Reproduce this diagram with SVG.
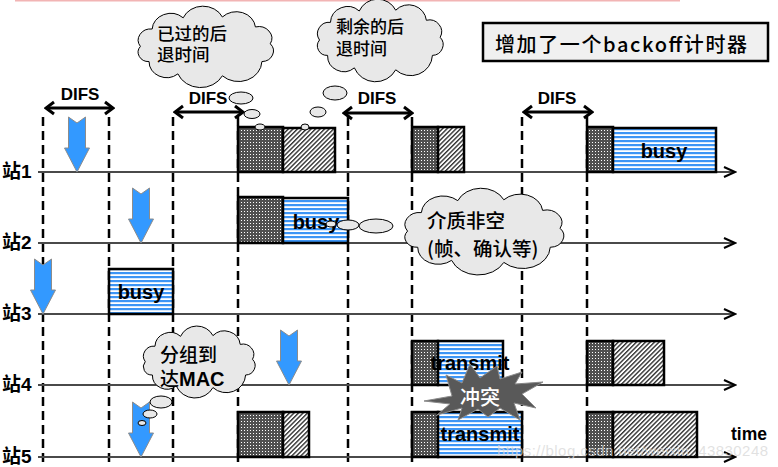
<svg xmlns="http://www.w3.org/2000/svg" width="778" height="467" viewBox="0 0 778 467">
<defs>
<style>
.lbl{font-family:"Liberation Sans","Noto Sans CJK SC",sans-serif;font-weight:bold;font-size:19px;fill:#000}
.cjk{font-family:"Noto Sans CJK SC",sans-serif;fill:#000;font-weight:500}
.difs{font-family:"Liberation Sans",Arial,sans-serif;font-weight:bold;font-size:17px;text-anchor:middle;fill:#000}
.bt{font-family:"Liberation Sans",Arial,sans-serif;font-size:20px;font-weight:bold;text-anchor:middle;fill:#000}
.box{stroke:#000;stroke-width:2.5}
.cloud{fill:#e8e8e8;stroke:#000;stroke-width:1}
.guide{stroke:#000;stroke-width:2.5;stroke-dasharray:9 5}
.tl{stroke:#4a4a4a;stroke-width:2;fill:none}
.da{stroke:#000;stroke-width:3;fill:none}
.barrow{fill:#3399ff;stroke:#8c8c8c;stroke-width:1}
</style>
<pattern id="dots" width="3" height="3" patternUnits="userSpaceOnUse"><rect width="3" height="3" fill="#505050"/><rect x="1" y="1" width="1" height="1" fill="#fff"/></pattern>
<pattern id="hatch" width="3.2" height="3.2" patternUnits="userSpaceOnUse" patternTransform="rotate(45)"><rect width="3.2" height="3.2" fill="#fff"/><rect width="1.4" height="3.2" fill="#333"/></pattern>
<pattern id="stripes" width="4" height="4" patternUnits="userSpaceOnUse"><rect width="4" height="4" fill="#fff"/><rect width="4" height="2.2" fill="#3d95f5"/></pattern>
<marker id="tarrow" viewBox="-13 -7 15 14" refX="0" refY="0" markerWidth="15" markerHeight="14" markerUnits="userSpaceOnUse" orient="auto"><path d="M-11,-5 L0,0 L-11,5" fill="none" stroke="#000" stroke-width="2"/></marker>
<marker id="darrow" viewBox="-2 -2 13 16" refX="9" refY="6" markerWidth="13" markerHeight="16" markerUnits="userSpaceOnUse" orient="auto-start-reverse"><path d="M1,0 L9,6 L1,12" fill="none" stroke="#000" stroke-width="3"/></marker>
<path id="cloudshape" vector-effect="non-scaling-stroke" d="M8,30 A8.1,8.1 0 0 1 15.6,17.4 A11.9,11.9 0 0 1 35.6,9.3 A13.9,13.9 0 0 1 60.9,8.7 A12.4,12.4 0 0 1 82.2,15.9 A8.5,8.5 0 0 1 91.8,28.1 A7.7,7.7 0 0 1 86.4,41 A15.1,15.1 0 0 1 60.9,51.3 A15.8,15.8 0 0 1 32.2,49.9 A11.3,11.3 0 0 1 13.6,41 A6.8,6.8 0 0 1 8,30 Z"/>
<path id="bluearrow" d="M-8.5,-55 L0,-49 L8.5,-55 L8.5,-24 L12.5,-24 L0,0 L-12.5,-24 L-8.5,-24 Z"/>
</defs>

<rect width="778" height="467" fill="#fff"/>
<line x1="15" y1="0.8" x2="680" y2="0.8" stroke="#f2b4b4" stroke-width="1.6"/>

<g id="guides">
<line class="guide" x1="43" y1="117" x2="43" y2="467"/>
<line class="guide" x1="109" y1="117" x2="109" y2="467"/>
<line class="guide" x1="173" y1="117" x2="173" y2="467"/>
<line class="guide" x1="238" y1="117" x2="238" y2="467"/>
<line class="guide" x1="348" y1="117" x2="348" y2="467"/>
<line class="guide" x1="412" y1="117" x2="412" y2="467"/>
<line class="guide" x1="522" y1="117" x2="522" y2="467"/>
<line class="guide" x1="587" y1="117" x2="587" y2="467"/>
</g>

<g id="connectors">
<line class="tl" x1="38" y1="172" x2="735" y2="172" marker-end="url(#tarrow)"/>
<line class="tl" x1="38" y1="243" x2="735" y2="243" marker-end="url(#tarrow)"/>
<line class="tl" x1="38" y1="314" x2="735" y2="314" marker-end="url(#tarrow)"/>
<line class="tl" x1="38" y1="385" x2="735" y2="385" marker-end="url(#tarrow)"/>
<line class="tl" x1="38" y1="457" x2="735" y2="457" marker-end="url(#tarrow)"/>
<line class="da" x1="46" y1="108" x2="113" y2="108" marker-start="url(#darrow)" marker-end="url(#darrow)"/>
<line class="da" x1="175" y1="112" x2="243" y2="112" marker-start="url(#darrow)" marker-end="url(#darrow)"/>
<line class="da" x1="344" y1="113" x2="412" y2="113" marker-start="url(#darrow)" marker-end="url(#darrow)"/>
<line class="da" x1="524" y1="112" x2="592" y2="112" marker-start="url(#darrow)" marker-end="url(#darrow)"/>
</g>

<g id="difs-labels">
<text class="difs" x="80" y="100">DIFS</text>
<text class="difs" x="208" y="104">DIFS</text>
<text class="difs" x="377" y="104">DIFS</text>
<text class="difs" x="557" y="104">DIFS</text>
</g>

<g id="station-labels">
<text class="lbl" x="2" y="178">站1</text>
<text class="lbl" x="2" y="249">站2</text>
<text class="lbl" x="2" y="320">站3</text>
<text class="lbl" x="2" y="391">站4</text>
<text class="lbl" x="2" y="463">站5</text>
</g>

<g id="station1">
<rect class="box" x="238" y="127" width="45" height="45" fill="url(#dots)"/>
<rect class="box" x="283" y="128" width="52" height="44" fill="url(#hatch)"/>
<rect class="box" x="412" y="127" width="26" height="45" fill="url(#dots)"/>
<rect class="box" x="438" y="127" width="26" height="45" fill="url(#hatch)"/>
<rect class="box" x="587" y="127" width="26" height="45" fill="url(#dots)"/>
<rect class="box" x="613" y="128" width="103" height="44" fill="url(#stripes)"/>
<text class="bt" x="664" y="158">busy</text>
</g>

<g id="station2">
<rect class="box" x="238" y="197" width="45" height="46" fill="url(#dots)"/>
<rect class="box" x="283" y="198" width="65" height="45" fill="url(#stripes)"/>
<text class="bt" x="316" y="229">busy</text>
</g>

<g id="station3">
<rect class="box" x="109" y="269" width="64" height="45" fill="url(#stripes)"/>
<text class="bt" x="141" y="299">busy</text>
</g>

<g id="station4">
<rect class="box" x="412" y="341" width="26" height="44" fill="url(#dots)"/>
<rect class="box" x="438" y="341" width="65" height="44" fill="url(#stripes)"/>
<text class="bt" x="470" y="370">transmit</text>
<rect class="box" x="587" y="341" width="26" height="44" fill="url(#dots)"/>
<rect class="box" x="613" y="341" width="51" height="44" fill="url(#hatch)"/>
</g>

<g id="station5">
<rect class="box" x="238" y="412" width="45" height="45" fill="url(#dots)"/>
<rect class="box" x="283" y="412" width="26" height="45" fill="url(#hatch)"/>
<rect class="box" x="412" y="412" width="26" height="45" fill="url(#dots)"/>
<rect class="box" x="438" y="412" width="84" height="45" fill="url(#stripes)"/>
<text class="bt" x="480" y="441">transmit</text>
<rect class="box" x="587" y="412" width="26" height="45" fill="url(#dots)"/>
<rect class="box" x="613" y="412" width="84" height="45" fill="url(#hatch)"/>
</g>

<g id="arrivals">
<use href="#bluearrow" class="barrow" x="77" y="172"/>
<use href="#bluearrow" class="barrow" x="141" y="243"/>
<use href="#bluearrow" class="barrow" x="43" y="314"/>
<use href="#bluearrow" class="barrow" x="289" y="385"/>
<use href="#bluearrow" class="barrow" x="141" y="457"/>
</g>

<g id="cloud-elapsed">
<use href="#cloudshape" class="cloud" transform="translate(128,5) scale(1.55,1.38)"/>
<ellipse class="cloud" cx="241" cy="98" rx="12" ry="6"/>
<ellipse class="cloud" cx="252" cy="114" rx="8" ry="4.5"/>
<ellipse class="cloud" cx="260" cy="127" rx="5" ry="3"/>
<text class="cjk" font-size="17.5"><tspan x="157" y="40">已过的后</tspan><tspan x="157" y="61">退时间</tspan></text>
</g>

<g id="cloud-remaining">
<use href="#cloudshape" class="cloud" transform="translate(308,-2) scale(1.44,1.4)"/>
<ellipse class="cloud" cx="335" cy="93" rx="12" ry="7"/>
<ellipse class="cloud" cx="318" cy="112" rx="8" ry="5"/>
<ellipse class="cloud" cx="305" cy="127" rx="4" ry="3"/>
<text class="cjk" font-size="17"><tspan x="336" y="33">剩余的后</tspan><tspan x="336" y="55">退时间</tspan></text>
</g>

<g id="cloud-busy">
<ellipse class="cloud" cx="331" cy="224" rx="5" ry="3"/>
<ellipse class="cloud" cx="348" cy="225" rx="11" ry="5"/>
<ellipse class="cloud" cx="376" cy="226" rx="17" ry="7"/>
<use href="#cloudshape" class="cloud" transform="translate(393,187) scale(1.82,1.47)"/>
<text class="cjk" font-size="19.5"><tspan x="427" y="228">介质非空</tspan><tspan x="427" y="256">(帧、确认等)</tspan></text>
</g>

<g id="cloud-mac">
<use href="#cloudshape" class="cloud" transform="translate(135,325) scale(1.28,1.22)"/>
<ellipse class="cloud" cx="161" cy="402" rx="11" ry="6"/>
<ellipse class="cloud" cx="150" cy="414" rx="7" ry="4"/>
<ellipse class="cloud" cx="142" cy="423" rx="4" ry="2.5"/>
<text class="cjk" font-size="19"><tspan x="160" y="362">分组到</tspan><tspan x="160" y="386">达</tspan><tspan font-family="Liberation Sans,Arial,sans-serif" font-weight="bold" font-size="20">MAC</tspan></text>
</g>

<g id="collision">
<polygon points="424,401 452,396 446,375 462,383 470,364 480,378 497,366 500,379 522,372 515,384 543,382 522,394 536,408 514,403 520,420 500,408 488,417 478,409 458,420 462,408 437,415 450,404" fill="#595959" stroke="#8a8a8a" stroke-width="1"/>
<text class="cjk" x="480" y="405" font-size="20" font-weight="bold" text-anchor="middle" style="fill:#fff">冲突</text>
</g>

<g id="note">
<rect x="483" y="23" width="285" height="38" fill="#f0f0f0" stroke="#000" stroke-width="2.5"/>
<text class="cjk" x="495" y="52" font-size="20" font-weight="bold" textLength="252" lengthAdjust="spacing">增加了一个backoff计时器</text>
</g>

<text x="731" y="440" font-family="Liberation Sans,Arial,sans-serif" font-weight="bold" font-size="17.5">time</text>
<text x="497" y="456" font-family="Liberation Sans,Arial,sans-serif" font-size="15" fill="#d8d8d8" fill-opacity="0.75" textLength="271">https://blog.csdn.net/weixin_43830248</text>
</svg>
